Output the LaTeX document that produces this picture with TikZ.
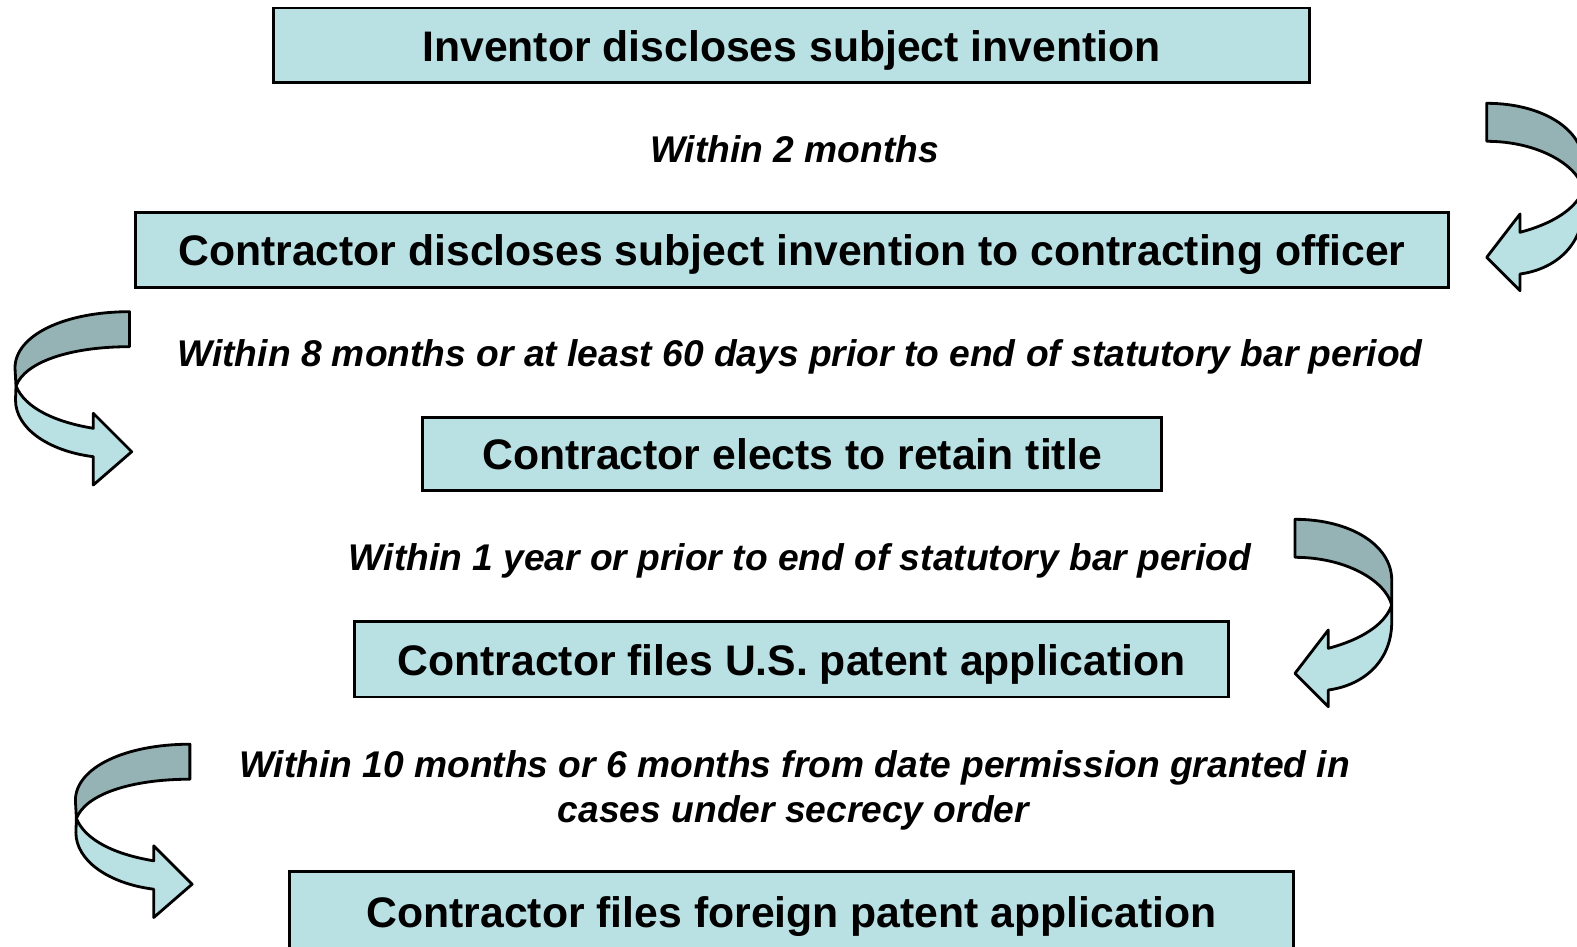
\documentclass[tikz,border=0pt]{standalone}
\usepackage{fontspec}
\setmainfont{Liberation Sans}
\definecolor{boxfill}{HTML}{B9E0E3}
\definecolor{arrowdark}{HTML}{95B2B5}
\begin{document}
\begin{tikzpicture}[x=0.01cm,y=-0.01cm,
  stepbox/.style={draw=black, line width=0.8pt, fill=boxfill, inner sep=0pt,
    text height=9.0pt, text depth=0pt, font=\fontsize{12.15}{14}\selectfont\bfseries},
  lbl/.style={inner sep=0pt, text height=7.8pt, text depth=0pt,
    font=\fontsize{10.57}{13}\selectfont\bfseries\itshape},
  arrback/.style={draw=black, line width=0.8pt, fill=arrowdark, line join=round},
  arrfront/.style={draw=black, line width=0.8pt, fill=boxfill, line join=round}]
\useasboundingbox (0,0) rectangle (1577,946);
\fill[white] (0,0) rectangle (1577,946);
\clip (0,0) rectangle (1577,946);

% boxes
\node[stepbox, minimum width=10.359cm, minimum height=0.745cm] (b1) at (791.45,45.25) {Inventor discloses subject invention};
\node[stepbox, minimum width=13.127cm, minimum height=0.746cm] (b2) at (791.85,250) {Contractor discloses subject invention to contracting officer};
\node[stepbox, minimum width=7.392cm, minimum height=0.734cm] (b3) at (792,454.1) {Contractor elects to retain title};
\node[stepbox, minimum width=8.73cm, minimum height=0.755cm] (b4) at (791.5,659.25) {Contractor files U.S. patent application};
\node[stepbox, minimum width=10.037cm, minimum height=0.8cm] (b5) at (791.45,911.5) {Contractor files foreign patent application};

% labels
\node[lbl] (t1) at (794.5,149) {Within 2 months};
\node[lbl] (t2) at (800,352.5) {Within 8 months or at least 60 days prior to end of statutory bar period};
\node[lbl] (t3) at (800,557) {Within 1 year or prior to end of statutory bar period};
\node[lbl] (t4a) at (794.5,763.3) {Within 10 months or 6 months from date permission granted in};
\node[lbl] (t4b) at (793.5,808.6) {cases under secrecy order};

% left curved arrows (pointing right)
\foreach \sx/\sy in {0/0, 60.4/432.5}{
\begin{scope}[shift={(\sx,\sy)}]
\filldraw[arrback] (129.5,311.7) .. controls (65,311.7) and (15,335) .. (15,368)
  -- (16,386) .. controls (25,362) and (70,346.7) .. (129.5,346.7) -- cycle;
\filldraw[arrfront] (16,386) -- (15.5,400) .. controls (15.5,428) and (48,451) .. (93.3,456.7)
  -- (93.3,485) -- (131.7,451.7) -- (93.3,413.3) -- (93.3,428.3)
  .. controls (55,422) and (25,408) .. (16,386) -- cycle;
\end{scope}}

% right curved arrows (pointing left)
\foreach \sx/\sy in {0/0, 191.7/-416}{
\begin{scope}[shift={(\sx,\sy)}]
\filldraw[arrback] (1295,519.3) .. controls (1350,519.3) and (1391.7,545) .. (1391.7,580)
  -- (1391.7,605) .. controls (1385,580) and (1345,557.3) .. (1295,557.3) -- cycle;
\filldraw[arrfront] (1391.7,605) -- (1391.7,622) .. controls (1391.7,660) and (1365,685) .. (1328.3,690)
  -- (1328.3,706.7) -- (1295,673.3) -- (1328.3,630) -- (1328.3,648.3)
  .. controls (1360,640) and (1385,625) .. (1391.7,605) -- cycle;
\end{scope}}
\end{tikzpicture}
\end{document}
